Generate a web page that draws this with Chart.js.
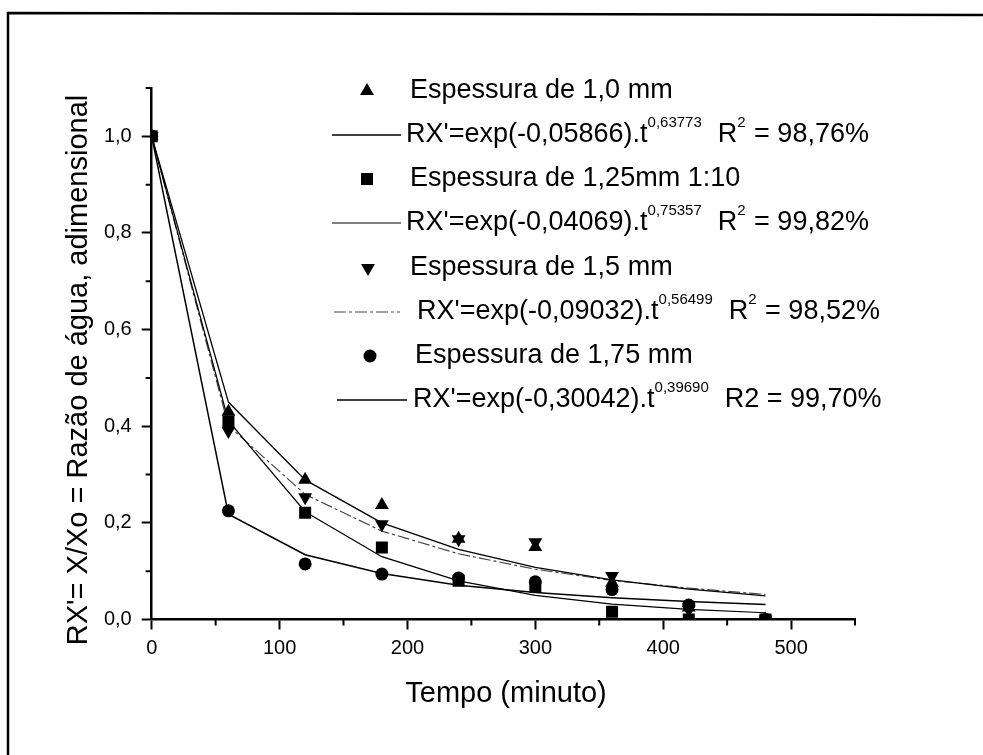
<!DOCTYPE html>
<html>
<head>
<meta charset="utf-8">
<script src="https://cdn.jsdelivr.net/npm/chart.js@4.4.1/dist/chart.umd.min.js"></script>
<style>
  html, body { margin: 0; padding: 0; background: #fff; }
  #caixa { width: 983px; height: 755px; }
</style>
</head>
<body>
<div id="caixa"><canvas id="secagem" width="983" height="755"></canvas></div>
<script>
// tempo de secagem (min)
const tempos = [0, 60, 120, 180, 240, 300, 360, 420, 480];

// razão de água medida, por espessura
const rx10  = [1.0, 0.43, 0.289, 0.237, 0.167, 0.150, 0.076, 0.025, 0.0];
const rx125 = [1.0, 0.41, 0.221, 0.149, 0.080, 0.068, 0.016, 0.0, 0.0];
const rx15  = [1.0, 0.39, 0.253, 0.197, 0.166, 0.160, 0.090, 0.020, 0.0];
const rx175 = [1.0, 0.225, 0.115, 0.094, 0.086, 0.078, 0.062, 0.030, 0.0];

// curvas do modelo de Page nos mesmos tempos
const page10  = [1.0, 0.450, 0.289, 0.200, 0.145, 0.108, 0.082, 0.063, 0.049];
const page125 = [1.0, 0.411, 0.223, 0.130, 0.080, 0.050, 0.032, 0.021, 0.014];
const page15  = [1.0, 0.401, 0.259, 0.183, 0.136, 0.104, 0.081, 0.065, 0.052];
const page175 = [1.0, 0.218, 0.134, 0.095, 0.071, 0.056, 0.045, 0.037, 0.031];

// textos da legenda
const rotulos = ['Espessura de 1,0 mm', 'Espessura de 1,25mm 1:10', 'Espessura de 1,5 mm', 'Espessura de 1,75 mm'];
const coefK = ['-0,05866', '-0,04069', '-0,09032', '-0,30042'];
const coefN = ['0,63773', '0,75357', '0,56499', '0,39690'];
const r2txt = ['98,76%', '99,82%', '98,52%', '99,70%'];

const ticksX = [0, 100, 200, 300, 400, 500];
const ticksY = [0, 0.2, 0.4, 0.6, 0.8, 1.0];

const FONTE = '"Liberation Sans", Arial, sans-serif';

const xy = (ys) => tempos.map((t, i) => ({ x: t, y: ys[i] }));

function pontos(label, ys, estilo, raio, rot) {
  return {
    label, data: xy(ys), showLine: false,
    pointStyle: estilo, pointRadius: raio, pointRotation: rot || 0,
    pointBackgroundColor: '#000', pointBorderColor: '#000', pointBorderWidth: 0
  };
}
function curva(label, ys, cor, largura, traco) {
  return {
    label, data: xy(ys), showLine: true, pointRadius: 0,
    borderColor: cor, borderWidth: largura, borderDash: traco || [], tension: 0
  };
}

const conjuntos = [
  pontos(rotulos[0], rx10, 'triangle', 8),
  pontos(rotulos[1], rx125, 'rect', 8.5),
  pontos(rotulos[2], rx15, 'triangle', 8, 180),
  pontos(rotulos[3], rx175, 'circle', 6.5),
  curva('Page 1,0', page10, '#000', 1.3),
  curva('Page 1,25', page125, '#000', 1.2),
  curva('Page 1,5', page15, '#444', 1.2, [12, 3, 3, 3]),
  curva('Page 1,75', page175, '#000', 1.5)
];

// linhas e marcadores da legenda (coordenadas da tela)
const linhasLeg = [
  { tipo: 'p', ds: 0, mx: 367, tx: 410, y: 91 },
  { tipo: 'l', ds: 4, i: 0, x0: 332, x1: 401, tx: 406, y: 135 },
  { tipo: 'p', ds: 1, mx: 367, tx: 410, y: 179 },
  { tipo: 'l', ds: 5, i: 1, x0: 332, x1: 401, tx: 406, y: 223 },
  { tipo: 'p', ds: 2, mx: 368, tx: 410, y: 268 },
  { tipo: 'l', ds: 6, i: 2, x0: 334, x1: 400, tx: 417, y: 312 },
  { tipo: 'p', ds: 3, mx: 370, tx: 415, y: 356 },
  { tipo: 'l', ds: 7, i: 3, x0: 337, x1: 407, tx: 413, y: 400, r2plano: true }
];

function escreve(ctx, partes, x, y) {
  let cx = x;
  for (const [s, sup] of partes) {
    ctx.font = sup ? `15px ${FONTE}` : `27px ${FONTE}`;
    ctx.fillText(s, cx, sup ? y - 12 : y);
    cx += ctx.measureText(s).width + (sup ? 1 : 0);
  }
}

const decoracao = {
  id: 'decoracao',
  afterDraw(chart) {
    const ctx = chart.ctx;
    const sx = chart.scales.x, sy = chart.scales.y;
    ctx.save();
    ctx.fillStyle = '#000';
    ctx.strokeStyle = '#000';

    // moldura
    ctx.lineWidth = 2.5;
    ctx.beginPath();
    ctx.moveTo(8, 755);
    ctx.lineTo(8, 13);
    ctx.lineTo(983, 15);
    ctx.stroke();

    // marcas secundárias
    ctx.lineWidth = 2;
    ctx.beginPath();
    for (let v = 50; v <= 550; v += 100) {
      const px = sx.getPixelForValue(v);
      ctx.moveTo(px, sy.bottom); ctx.lineTo(px, sy.bottom + 6);
    }
    for (let k = 1; k <= 11; k += 2) {
      const py = sy.getPixelForValue(k / 10);
      ctx.moveTo(sx.left, py); ctx.lineTo(sx.left - 6, py);
    }
    ctx.stroke();

    // títulos dos eixos
    ctx.textAlign = 'center';
    ctx.textBaseline = 'alphabetic';
    ctx.font = `29px ${FONTE}`;
    ctx.fillText('Tempo (minuto)', 506, 702);
    ctx.save();
    ctx.translate(87, 370);
    ctx.rotate(-Math.PI / 2);
    ctx.fillText("RX'= X/Xo = Razão de água, adimensional", 0, 0);
    ctx.restore();

    // legenda
    ctx.textAlign = 'left';
    ctx.textBaseline = 'middle';
    for (const item of linhasLeg) {
      const ds = chart.data.datasets[item.ds];
      if (item.tipo === 'p') {
        ctx.fillStyle = '#000';
        Chart.helpers.drawPoint(ctx, {
          pointStyle: ds.pointStyle, radius: ds.pointRadius,
          rotation: ds.pointRotation, borderWidth: 0
        }, item.mx, item.y);
        escreve(ctx, [[ds.label]], item.tx, item.y);
      } else {
        ctx.strokeStyle = ds.borderColor;
        ctx.lineWidth = ds.borderWidth;
        ctx.setLineDash(ds.borderDash);
        ctx.beginPath();
        ctx.moveTo(item.x0, item.y); ctx.lineTo(item.x1, item.y);
        ctx.stroke();
        ctx.setLineDash([]);
        ctx.fillStyle = '#000';
        const i = item.i;
        const partes = [["RX'=exp(" + coefK[i] + ").t"], [coefN[i], true]];
        if (item.r2plano) {
          partes.push(['  R2 = ' + r2txt[i]]);
        } else {
          partes.push(['  R'], ['2', true], [' = ' + r2txt[i]]);
        }
        escreve(ctx, partes, item.tx, item.y);
      }
    }
    ctx.restore();
  }
};

new Chart(document.getElementById('secagem'), {
  type: 'scatter',
  data: { datasets: conjuntos },
  options: {
    responsive: false,
    animation: false,
    devicePixelRatio: 1,
    layout: { padding: { top: 88, right: 128, left: 0, bottom: 0 } },
    plugins: { legend: { display: false }, tooltip: { enabled: false } },
    scales: {
      x: {
        type: 'linear', min: 0, max: 550,
        afterBuildTicks: (s) => { s.ticks = ticksX.map(v => ({ value: v })); },
        afterFit: (s) => { s.height = 755 - 619.5; s.paddingLeft = 0; s.paddingRight = 0; },
        border: { display: true, color: '#000', width: 2.5 },
        grid: { drawOnChartArea: false, drawTicks: true, tickLength: 10, tickWidth: 2, tickColor: '#000', color: '#000' },
        ticks: {
          color: '#000', padding: 7, maxRotation: 0, autoSkip: false,
          font: { family: FONTE, size: 20 },
          callback: (v) => String(v)
        }
      },
      y: {
        type: 'linear', min: 0, max: 1.1,
        afterBuildTicks: (s) => { s.ticks = ticksY.map(v => ({ value: v })); },
        afterFit: (s) => { s.width = 151.7; s.paddingTop = 0; s.paddingBottom = 0; },
        border: { display: true, color: '#000', width: 2.5 },
        grid: { drawOnChartArea: false, drawTicks: true, tickLength: 10, tickWidth: 2, tickColor: '#000', color: '#000' },
        ticks: {
          color: '#000', padding: 10, autoSkip: false,
          font: { family: FONTE, size: 20 },
          callback: (v) => v.toFixed(1).replace('.', ',')
        }
      }
    }
  },
  plugins: [decoracao]
});
</script>
</body>
</html>
